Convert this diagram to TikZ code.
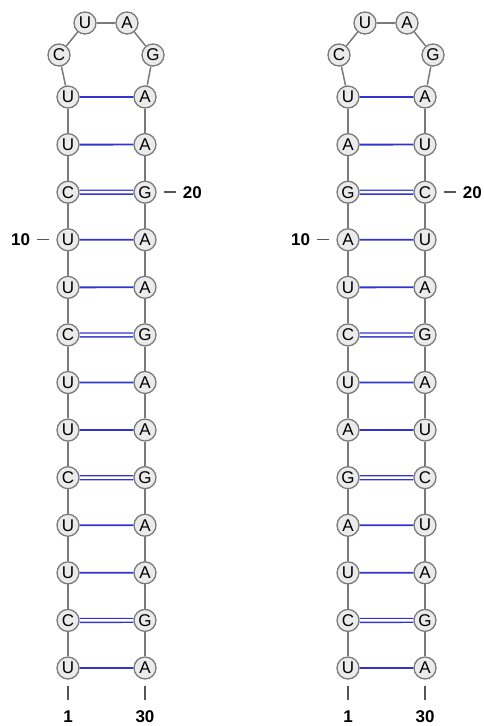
\documentclass[tikz,border=0pt]{standalone}
\usepackage{fontspec}
\setmainfont{Liberation Sans}
\usetikzlibrary{positioning}
\definecolor{nGray}{HTML}{7A7A7A}
\definecolor{nFill}{HTML}{EBEBEB}
\definecolor{pBlue}{HTML}{3333D4}
\definecolor{tGray}{HTML}{555555}

\begin{document}
\begin{tikzpicture}[x=1pt, y=-1pt,
  base/.style={circle, draw=nGray, fill=nFill, line width=1.3pt, minimum size=22pt,
               inner sep=0pt, font=\fontsize{17}{17}\selectfont},
  backbone/.style={draw=nGray, line width=1.5pt},
  single/.style={draw=pBlue, line width=1.8pt},
  dbl/.style={draw=pBlue, line width=1.4pt, double=white, double distance=2.4pt},
  num/.style={font=\fontsize{17}{17}\selectfont\bfseries, inner sep=0pt},
  tick/.style={draw=tGray, line width=1.4pt},
]
  \useasboundingbox (0,0) rectangle (483,726);

  % left hairpin
  \foreach \b [count=\i] in {U,C,U,U,C,U,U,C,U,U,C,U,U}
    \node[base] (a\i) at (68, {668-(\i-1)*47.58}) {\b};
  \node[base] (a14) at (59,55) {C};
  \node[base] (a15) at (85,23) {U};
  \node[base] (a16) at (127,23) {A};
  \node[base] (a17) at (153,55) {G};
  \foreach \b [count=\i from 18] in {A,A,G,A,A,G,A,A,G,A,A,G,A}
    \node[base] (a\i) at (145, {97+(\i-18)*47.58}) {\b};

  \foreach \i [evaluate=\i as \j using int(\i+1)] in {1,...,29}
    \draw[backbone] (a\i) -- (a\j);
  \foreach \i [evaluate=\i as \j using int(31-\i)] in {1,3,4,6,7,9,10,12,13}
    \draw[single] (a\i) -- (a\j);
  \foreach \i [evaluate=\i as \j using int(31-\i)] in {2,5,8,11}
    \draw[dbl] (a\i) -- (a\j);

  \node[num, left=26pt of a10] (ta10) {10};
  \node[num, right=26pt of a20] (ta20) {20};
  \node[num, below=31pt of a1] (ta1) {1};
  \node[num, below=31pt of a30] (ta30) {30};
  \draw[tick, shorten <=7pt, shorten >=7pt] (ta10) -- (a10);
  \draw[tick, shorten <=7pt, shorten >=7pt] (a20) -- (ta20);
  \draw[tick, shorten <=6pt, shorten >=11pt] (a1) -- (ta1);
  \draw[tick, shorten <=6pt, shorten >=11pt] (a30) -- (ta30);

  % right hairpin
  \foreach \b [count=\i] in {U,C,U,A,G,A,U,C,U,A,G,A,U}
    \node[base] (b\i) at (348, {668-(\i-1)*47.58}) {\b};
  \node[base] (b14) at (339,55) {C};
  \node[base] (b15) at (365,23) {U};
  \node[base] (b16) at (407,23) {A};
  \node[base] (b17) at (433,55) {G};
  \foreach \b [count=\i from 18] in {A,U,C,U,A,G,A,U,C,U,A,G,A}
    \node[base] (b\i) at (425, {97+(\i-18)*47.58}) {\b};

  \foreach \i [evaluate=\i as \j using int(\i+1)] in {1,...,29}
    \draw[backbone] (b\i) -- (b\j);
  \foreach \i [evaluate=\i as \j using int(31-\i)] in {1,3,4,6,7,9,10,12,13}
    \draw[single] (b\i) -- (b\j);
  \foreach \i [evaluate=\i as \j using int(31-\i)] in {2,5,8,11}
    \draw[dbl] (b\i) -- (b\j);

  \node[num, left=26pt of b10] (tb10) {10};
  \node[num, right=26pt of b20] (tb20) {20};
  \node[num, below=31pt of b1] (tb1) {1};
  \node[num, below=31pt of b30] (tb30) {30};
  \draw[tick, shorten <=7pt, shorten >=7pt] (tb10) -- (b10);
  \draw[tick, shorten <=7pt, shorten >=7pt] (b20) -- (tb20);
  \draw[tick, shorten <=6pt, shorten >=11pt] (b1) -- (tb1);
  \draw[tick, shorten <=6pt, shorten >=11pt] (b30) -- (tb30);
\end{tikzpicture}
\end{document}
